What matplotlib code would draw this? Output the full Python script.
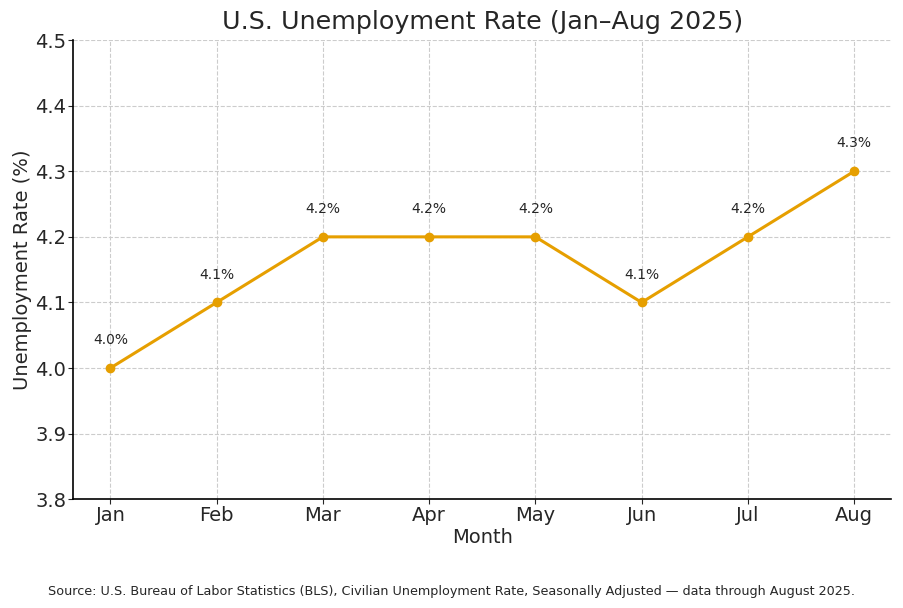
import matplotlib
matplotlib.use("Agg")
import matplotlib.pyplot as plt

months = ["Jan", "Feb", "Mar", "Apr", "May", "Jun", "Jul", "Aug"]
rate = [4.0, 4.1, 4.2, 4.2, 4.2, 4.1, 4.2, 4.3]
yticks = [3.8, 3.9, 4.0, 4.1, 4.2, 4.3, 4.4, 4.5]

fig, ax = plt.subplots(figsize=(9.04, 6.08), dpi=100)
fig.subplots_adjust(left=0.081, right=0.986, top=0.934, bottom=0.179)

x = list(range(len(months)))
ax.plot(x, rate, color="#E69F00", linewidth=2.2, marker="o", markersize=6)

for xi, v in zip(x, rate):
    ax.annotate(f"{v:.1f}%", (xi, v), textcoords="offset points", xytext=(0, 15),
                ha="center", va="bottom", fontsize=10, color="#262626")

ax.set_xticks(x)
ax.set_xticklabels(months)
ax.set_yticks(yticks)
ax.set_ylim(3.8, 4.5)
ax.tick_params(labelsize=14, colors="#262626", pad=1.5, length=3.5)
ax.grid(True, linestyle="--", color="#cccccc", linewidth=0.8)
ax.set_axisbelow(True)
for s in ["top", "right"]:
    ax.spines[s].set_visible(False)
for s in ["left", "bottom"]:
    ax.spines[s].set_linewidth(1.2)

ax.set_title("U.S. Unemployment Rate (Jan\u2013Aug 2025)", fontsize=18.3, color="#262626", pad=8)
ax.set_xlabel("Month", fontsize=14, color="#262626", labelpad=2)
ax.set_ylabel("Unemployment Rate (%)", fontsize=14, color="#262626", labelpad=2)

fig.text(0.5, 0.022, "Source: U.S. Bureau of Labor Statistics (BLS), Civilian Unemployment Rate, "
         "Seasonally Adjusted \u2014 data through August 2025.",
         ha="center", fontsize=9.2, color="#262626")

fig.savefig("out.png", dpi=100)
